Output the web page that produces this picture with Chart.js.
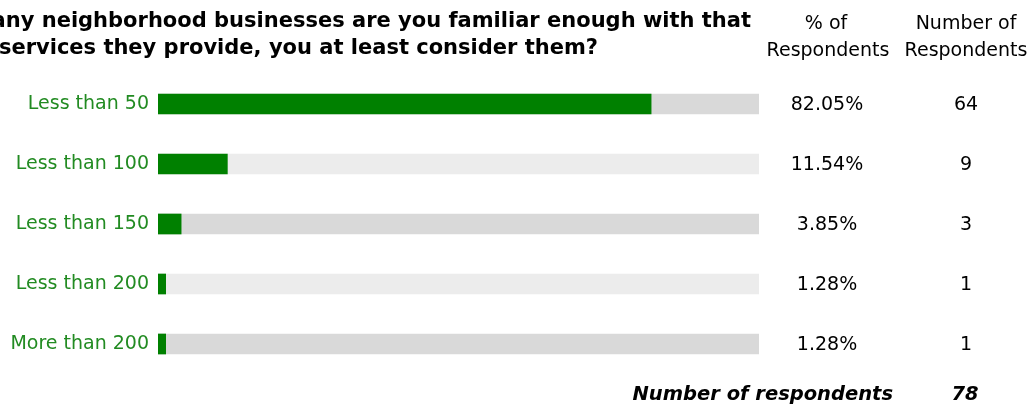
<!DOCTYPE html>
<html>
<head>
<meta charset="utf-8">
<script src="https://cdn.jsdelivr.net/npm/chart.js@4/dist/chart.umd.min.js"></script>
<style>
  html, body { margin: 0; padding: 0; background: #fff; }
  #wrap { width: 1034px; height: 405px; }
</style>
</head>
<body>
<div id="wrap"><canvas id="chart" width="1034" height="405"></canvas></div>
<script>
const categories = ['Less than 50', 'Less than 100', 'Less than 150', 'Less than 200', 'More than 200'];
const percents = [82.05, 11.54, 3.85, 1.28, 1.28];
const counts = [64, 9, 3, 1, 1];
const totalRespondents = 78;
const titleLines = [
  'How many neighborhood businesses are you familiar enough with that',
  'you know the services they provide, you at least consider them?'
];

const FONT = "'DejaVu Sans', Verdana, sans-serif";
const GREEN = '#008000';
const LABEL_GREEN = '#228b22';
const trackColors = categories.map((c, i) => i % 2 === 0 ? '#d9d9d9' : '#ececec');

const textPlugin = {
  id: 'textPlugin',
  afterDraw(chart){
    const ctx = chart.ctx;
    const y = chart.scales.y;
    ctx.save();
    ctx.fillStyle = '#000';
    ctx.textBaseline = 'alphabetic';

    // title, cut off at the left like the original
    ctx.font = `bold 21px ${FONT}`;
    ctx.textAlign = 'right';
    ctx.fillText(titleLines[0], 751, 27);
    ctx.fillText(titleLines[1], 598, 54);

    // column headers
    ctx.font = `19px ${FONT}`;
    ctx.textAlign = 'center';
    ctx.fillText('% of', 826, 29);
    ctx.fillText('Respondents', 828, 56);
    ctx.fillText('Number of', 966, 29);
    ctx.fillText('Respondents', 966, 56);

    // values per row
    ctx.textBaseline = 'middle';
    categories.forEach((c, i) => {
      const py = y.getPixelForValue(i);
      ctx.fillText(percents[i].toFixed(2) + '%', 827, py + 1);
      ctx.fillText(String(counts[i]), 966, py + 1);
    });

    // footer
    ctx.textBaseline = 'alphabetic';
    ctx.font = `italic bold 19.5px ${FONT}`;
    ctx.textAlign = 'right';
    ctx.fillText('Number of respondents', 893, 400);
    ctx.textAlign = 'center';
    ctx.fillText(String(totalRespondents), 965, 400);
    ctx.restore();
  }
};

new Chart(document.getElementById('chart'), {
  type: 'bar',
  data: {
    labels: categories,
    datasets: [
      {
        label: '% of Respondents',
        data: percents,
        backgroundColor: GREEN,
        grouped: false,
        order: 0,
        barThickness: 20
      },
      {
        label: 'track',
        data: categories.map(() => 100),
        backgroundColor: trackColors,
        grouped: false,
        order: 1,
        barThickness: 20
      }
    ]
  },
  options: {
    indexAxis: 'y',
    responsive: false,
    animation: false,
    devicePixelRatio: 1,
    layout: { padding: { left: 0, right: 275, top: 74, bottom: 31 } },
    plugins: { legend: { display: false }, tooltip: { enabled: false } },
    scales: {
      x: { display: false, min: 0, max: 100 },
      y: {
        grid: { display: false, drawTicks: false },
        border: { display: false },
        ticks: { color: LABEL_GREEN, font: { family: FONT, size: 19 }, padding: 9 },
        afterFit(scale){ scale.width = 158; }
      }
    }
  },
  plugins: [textPlugin]
});
</script>
</body>
</html>
